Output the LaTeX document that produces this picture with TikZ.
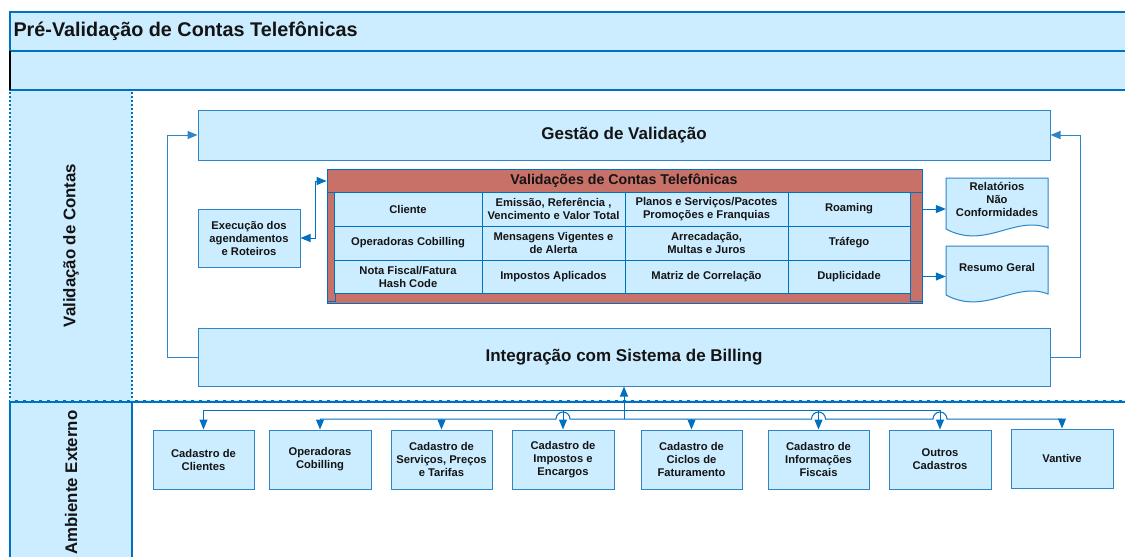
\documentclass[tikz,border=0pt]{standalone}
\usepackage{fontspec}
\setmainfont{Liberation Sans}
\usetikzlibrary{arrows.meta}
\definecolor{lb}{RGB}{204,236,255}
\definecolor{db}{RGB}{0,112,192}
\definecolor{mb}{RGB}{46,134,200}
\definecolor{rd}{RGB}{200,113,105}
\definecolor{tx}{RGB}{20,20,20}
\begin{document}
\begin{tikzpicture}[x=1pt,y=-1pt,
  lbl/.style={font=\bfseries\fontsize{11.2}{13}\selectfont, text=tx, align=center},
  bx/.style={draw=mb, line width=1pt, fill=lb, lbl, inner sep=1pt},
  cell/.style={draw=db, line width=1pt, fill=lb, lbl, inner sep=1pt},
  big/.style={draw=mb, line width=1pt, fill=lb, font=\bfseries\fontsize{17}{20}\selectfont, text=tx, minimum width=852pt, inner sep=0pt},
  conn/.style={draw=db, line width=1pt},
  tip/.style={-{Triangle[length=10pt,width=8pt]}},
  dtip/.style={{Triangle[length=10pt,width=8pt]}-{Triangle[length=10pt,width=8pt]}},
  lanetxt/.style={rotate=90, font=\bfseries\fontsize{16.8}{19}\selectfont, text=tx},
  docshape/.style={draw=mb, line width=1pt, fill=lb},
]
\useasboundingbox (0,0) rectangle (1125,557);
\fill[white] (0,0) rectangle (1125,557);
% pool header bands
\fill[lb] (10,12) rectangle (1130,90);
\draw[db, line width=2.2pt] (9,12) -- (1130,12);
\draw[db, line width=2.2pt] (9,51) -- (1130,51);
\draw[db, line width=2.2pt] (9,90) -- (1130,90);
\draw[db, line width=2.2pt] (10,12) -- (10,51);
\draw[black, line width=2.2pt] (10,51) -- (10,90);
\node[anchor=west, font=\bfseries\fontsize{19.8}{23}\selectfont, text=tx] (title) at (10,31) {Pré-Validação de Contas Telefônicas};
% lane headers
\fill[lb] (10,91) rectangle (132,401);
\draw[db, line width=2.2pt, dash pattern=on 2pt off 2pt] (10,92) -- (10,400) (132,92) -- (132,400);
\fill[lb] (10,401) rectangle (132,560);
\draw[db, line width=2.2pt] (10,401) -- (10,560) (132,401) -- (132,560);
\draw[db, line width=3pt] (9,401) -- (1130,401);
\draw[lb, line width=0.8pt, dash pattern=on 5pt off 3pt] (10,400.5) -- (1130,400.5);
\node[lanetxt] (lane1) at (71,245.5) {Validação de Contas};
\node[lanetxt] (lane2) at (71,482.5) {Ambiente Externo};
% main boxes
\node[big, minimum height=50pt] (gest) at (624,135) {Gestão de Validação};
\node[big, minimum height=58pt] (integ) at (624,357) {Integração com Sistema de Billing};
\node[bx, minimum width=102pt, minimum height=58pt] (exec) at (249,238) {Execução dos\\agendamentos\\e Roteiros};
% validations block
\node[draw=db, line width=0.8pt, fill=rd, minimum width=595pt, minimum height=134pt, inner sep=0pt] (valid) at (624.5,236) {};
\node[font=\bfseries\fontsize{14.2}{17}\selectfont, text=tx] (vtitle) at (624,181) {Validações de Contas Telefônicas};
\draw[db, line width=0.8pt, fill=rd] (327,192) rectangle (335,301);
\draw[db, line width=0.8pt, fill=rd] (910,192) rectangle (922,301);
\node[cell, minimum width=148pt, minimum height=34pt] (c11) at (408,209) {Cliente};
\node[cell, minimum width=143pt, minimum height=34pt] (c12) at (553.5,209) {Emissão, Referência ,\\Vencimento e Valor Total};
\node[cell, minimum width=163pt, minimum height=34pt] (c13) at (706.5,209) {Planos e Serviços/Pacotes\\Promoções e Franquias};
\node[cell, minimum width=122pt, minimum height=34pt] (c14) at (849,209) {Roaming};
\node[cell, minimum width=148pt, minimum height=34pt] (c21) at (408,243) {Operadoras Cobilling};
\node[cell, minimum width=143pt, minimum height=34pt] (c22) at (553.5,243) {Mensagens Vigentes e\\de Alerta};
\node[cell, minimum width=163pt, minimum height=34pt] (c23) at (706.5,243) {Arrecadação,\\Multas e Juros};
\node[cell, minimum width=122pt, minimum height=34pt] (c24) at (849,243) {Tráfego};
\node[cell, minimum width=148pt, minimum height=33pt] (c31) at (408,276.5) {Nota Fiscal/Fatura\\Hash Code};
\node[cell, minimum width=143pt, minimum height=33pt] (c32) at (553.5,276.5) {Impostos Aplicados};
\node[cell, minimum width=163pt, minimum height=33pt] (c33) at (706.5,276.5) {Matriz de Correlação};
\node[cell, minimum width=122pt, minimum height=33pt] (c34) at (849,276.5) {Duplicidade};
% documents
\path[docshape] (946,178) -- (1048,178) -- (1048,228) .. controls (1015,215) and (985,250) .. (946,229) -- cycle;
\node[lbl, minimum width=102pt, inner sep=0pt] (rel) at (997,199.5) {Relatórios\\Não\\Conformidades};
\path[docshape] (946,246) -- (1048,246) -- (1048,294) .. controls (1015,281) and (985,316) .. (946,295) -- cycle;
\node[lbl, minimum width=102pt, inner sep=0pt] (res) at (997,267) {Resumo Geral};
% external boxes
\node[bx, minimum width=101pt, minimum height=59pt] (b1) at (203.5,459.5) {Cadastro de\\Clientes};
\node[bx, minimum width=102pt, minimum height=59pt] (b2) at (320,459.5) {Operadoras\\Cobilling};
\node[bx, minimum width=101pt, minimum height=59pt] (b3) at (441.5,459.5) {Cadastro de\\Serviços, Preços\\e Tarifas};
\node[bx, minimum width=102pt, minimum height=59pt] (b4) at (563,459.5) {Cadastro de\\Impostos e\\Encargos};
\node[bx, minimum width=101pt, minimum height=59pt] (b5) at (691.5,459.5) {Cadastro de\\Ciclos de\\Faturamento};
\node[bx, minimum width=101pt, minimum height=59pt] (b6) at (818.5,459.5) {Cadastro de\\Informações\\Fiscais};
\node[bx, minimum width=102pt, minimum height=59pt] (b7) at (940,459.5) {Outros\\Cadastros};
\node[bx, minimum width=102pt, minimum height=59pt] (b8) at (1062,458.5) {Vantive};
% connectors: loop
\draw[conn, draw=mb, tip] (integ.west) -- ++(-30,0) |- (gest.west);
\draw[conn, draw=mb, tip] (integ.east) -- ++(30,0) |- (gest.east);
\draw[conn, dtip] (exec.east) -- ++(15,0) |- (valid.west |- vtitle);
\draw[conn, tip] (valid.east |- c14) -- (rel.west |- c14);
\draw[conn, tip] (valid.east |- c34) -- (res.west |- c34);
% buses
\coordinate (ju) at (624,410);
\coordinate (jl) at (624,419);
\draw[conn, tip] (jl) -- (integ.south);
\draw[conn] (b1.north |- ju) -- (b7.north |- ju);
\foreach \b in {b1,b4,b6,b7} \draw[conn, tip] (\b.north |- ju) -- (\b.north);
\draw[conn] (b2.north |- jl) -- ([xshift=-7pt]b4.north |- jl) arc(180:360:7)
  -- ([xshift=-7pt]b6.north |- jl) arc(180:360:7)
  -- ([xshift=-7pt]b7.north |- jl) arc(180:360:7) -- (b8.north |- jl);
\foreach \b in {b2,b3,b5,b8} \draw[conn, tip] (\b.north |- jl) -- (\b.north);
\end{tikzpicture}
\end{document}
